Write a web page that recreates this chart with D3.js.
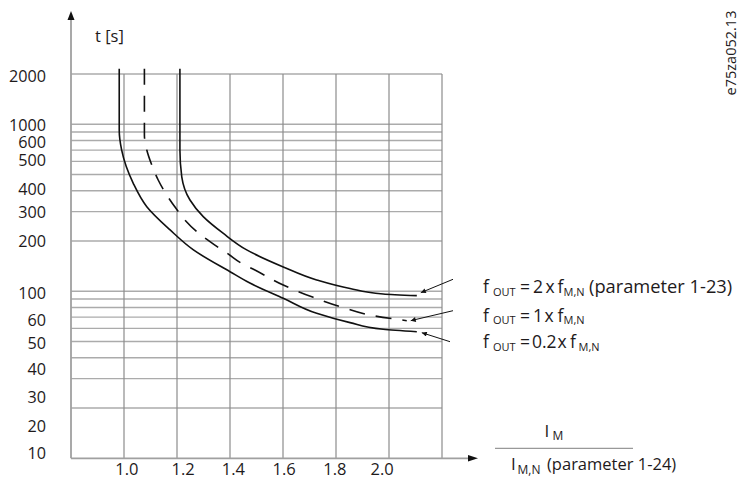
<!DOCTYPE html>
<html><head><meta charset="utf-8">
<script src="https://cdn.jsdelivr.net/npm/d3@7"></script>
<style>body{margin:0;background:#fff}</style>
</head><body>
<svg id="c" width="739" height="480"></svg>
<script>
// ---------- data ----------
const xGrid = [1.0, 1.2, 1.4, 1.6, 1.8, 2.0, 2.2];
const xTickLabels = ["1.0", "1.2", "1.4", "1.6", "1.8", "2.0"];
const xTickLabelAt = [1.011, 1.223, 1.413, 1.604, 1.796, 1.974];
const yGrid = [20, 30, 40, 50, 60, 70, 80, 90, 100, 200, 300, 400, 500, 600, 700, 800, 900, 1000, 2000];
const yTickLabels = ["2000", "1000", "600", "500", "400", "300", "200", "100", "60", "50", "40", "30", "20", "10"];
const yTickLabelAt = [1930, 990, 780, 610, 408, 296, 199, 97, 67, 49, 34, 23.2, 15.5, 10.8];

// f_OUT = 0.2 x f_M,N
const curveLow = [[0.982, 2150], [0.982, 920], [0.991, 702], [1.035, 443], [1.086, 321], [1.174, 233],
  [1.262, 177], [1.400, 131], [1.475, 112], [1.601, 90.8], [1.727, 73.8], [1.853, 64.9], [1.978, 59.2], [2.105, 57.3]];
// f_OUT = 1 x f_M,N
const curveMid = [[1.077, 2150], [1.077, 863], [1.086, 702], [1.105, 570], [1.129, 464], [1.161, 378], [1.196, 314],
  [1.230, 267], [1.274, 228], [1.343, 189], [1.394, 167], [1.444, 147], [1.494, 134], [1.601, 109], [1.714, 92],
  [1.828, 79.8], [1.947, 71.1], [2.067, 66.7]];
// f_OUT = 2 x f_M,N
const curveHigh = [[1.211, 2150], [1.211, 702], [1.218, 485], [1.249, 352], [1.299, 280], [1.375, 222], [1.463, 177],
  [1.601, 140], [1.727, 117], [1.853, 104], [1.978, 96.4], [2.105, 94.2]];

const yTitle = "t [s]";
const figId = "e75za052.13";

// ---------- layout ----------
const W = 739, H = 480;
const svg = d3.select("#c");
svg.append("rect").attr("width", W).attr("height", H).attr("fill", "#fff");
const FONT = "'Open Sans', 'DejaVu Sans', sans-serif";
const TXT = "#1e1a1b";

const x = d3.scaleLinear().domain([0.8, 2.2]).range([71, 442]);
const y = d3.scaleLog().domain([10, 1000]).range([458.3, 124.3]);

const defs = svg.append("defs");
defs.append("marker").attr("id", "ah").attr("viewBox", "0 0 10 10")
  .attr("refX", 10).attr("refY", 5).attr("markerWidth", 8).attr("markerHeight", 5)
  .attr("markerUnits", "userSpaceOnUse").attr("orient", "auto")
  .append("path").attr("d", "M0,0 L10,5 L0,10 z").attr("fill", "#111");

// horizontal grid
svg.append("g").selectAll("line").data(yGrid).join("line")
  .attr("x1", x(0.8)).attr("x2", x(2.2))
  .attr("y1", d => y(d)).attr("y2", d => y(d))
  .attr("stroke", "#ababab").attr("stroke-width", 1.4);

// vertical grid
svg.append("g").selectAll("line").data(xGrid).join("line")
  .attr("x1", d => x(d)).attr("x2", d => x(d))
  .attr("y1", y(2000)).attr("y2", y(10))
  .attr("stroke", "#8c8c8c").attr("stroke-width", 1.2);

// axes
svg.append("line").attr("x1", x(0.8)).attr("x2", x(0.8)).attr("y1", y(10)).attr("y2", 18)
  .attr("stroke", "#a0a0a0").attr("stroke-width", 1.8);
svg.append("path").attr("d", `M${x(0.8)},11 L${x(0.8) + 3.5},20 L${x(0.8) - 3.5},20 Z`).attr("fill", "#111");
svg.append("line").attr("x1", x(0.8)).attr("x2", 470).attr("y1", y(10)).attr("y2", y(10))
  .attr("stroke", "#a0a0a0").attr("stroke-width", 1.8);
svg.append("path").attr("d", `M478,${y(10)} L468,${y(10) - 3.2} L468,${y(10) + 3.2} Z`).attr("fill", "#111");

// tick labels
svg.append("g").selectAll("text").data(yTickLabels).join("text")
  .attr("x", 46).attr("y", (d, i) => y(yTickLabelAt[i])).attr("dy", "0.36em")
  .attr("text-anchor", "end").attr("font-family", FONT).attr("font-size", 16.2).attr("fill", TXT)
  .text(d => d);
svg.append("g").selectAll("text").data(xTickLabels).join("text")
  .attr("x", (d, i) => x(xTickLabelAt[i])).attr("y", 475)
  .attr("text-anchor", "middle").attr("font-family", FONT).attr("font-size", 16.5).attr("fill", TXT)
  .text(d => d);

svg.append("text").attr("x", 95).attr("y", 42).attr("font-family", FONT).attr("font-size", 16.5)
  .attr("fill", TXT).text(yTitle);

// curves
const line = d3.line().x(d => x(d[0])).y(d => y(d[1])).curve(d3.curveMonotoneY);
const curves = [
  { data: curveHigh, dash: null },
  { data: curveMid, dash: "16,11" },
  { data: curveLow, dash: null }
];
svg.append("g").selectAll("path").data(curves).join("path")
  .attr("d", d => line(d.data)).attr("fill", "none").attr("stroke", "#111")
  .attr("stroke-width", 1.6).attr("stroke-dasharray", d => d.dash);

// annotations
const annLines = [
  { base: 293, segs: [["f", 483], ["OUT", 493, 1], ["=", 520], ["2", 533], ["x", 545.5], ["f", 557.5], ["M,N", 563.5, 1], ["(parameter 1-23)", 589, 0, 18.3]], tail: [453, 279.3], curve: curveHigh, off: [4, -3] },
  { base: 321.5, segs: [["f", 483], ["OUT", 493, 1], ["=", 520], ["1", 533], ["x", 544.5], ["f", 557.5], ["M,N", 563.5, 1]], tail: [453, 310.7], curve: curveMid, off: [4, 0] },
  { base: 348, segs: [["f", 483], ["OUT", 493, 1], ["=", 520], ["0.2", 532], ["x", 557.5], ["f", 570], ["M,N", 578.5, 1]], tail: [450, 341.7], curve: curveLow, off: [5, 1] }
];
annLines.forEach(a => {
  a.segs.forEach(s => {
    svg.append("text").attr("x", s[1]).attr("y", a.base + (s[2] ? 2.5 : 0))
      .attr("font-family", FONT).attr("font-size", s[2] ? 11 : (s[3] || 17.5)).attr("fill", TXT).text(s[0]);
  });
  const last = a.curve[a.curve.length - 1];
  svg.append("line").attr("x1", a.tail[0]).attr("y1", a.tail[1])
    .attr("x2", x(last[0]) + a.off[0]).attr("y2", y(last[1]) + a.off[1])
    .attr("stroke", "#111").attr("stroke-width", 1).attr("marker-end", "url(#ah)");
});

// x axis title (fraction)
svg.append("text").attr("x", 544.5).attr("y", 436.7).attr("font-family", FONT).attr("font-size", 17).attr("fill", TXT).text("I");
svg.append("text").attr("x", 552.5).attr("y", 440).attr("font-family", FONT).attr("font-size", 12).attr("fill", TXT).text("M");
svg.append("line").attr("x1", 495).attr("x2", 633).attr("y1", 448.3).attr("y2", 448.3).attr("stroke", "#999").attr("stroke-width", 1.3);
svg.append("text").attr("x", 511).attr("y", 470).attr("font-family", FONT).attr("font-size", 17).attr("fill", TXT).text("I");
svg.append("text").attr("x", 517.5).attr("y", 473.5).attr("font-family", FONT).attr("font-size", 12).attr("fill", TXT).text("M,N");
svg.append("text").attr("x", 547).attr("y", 470).attr("font-family", FONT).attr("font-size", 16.5).attr("fill", TXT).text("(parameter 1-24)");

// figure id
svg.append("text").attr("transform", "translate(736,53) rotate(-90)").attr("text-anchor", "middle")
  .attr("font-family", FONT).attr("font-size", 14.5).attr("fill", TXT).text(figId);
</script>
</body></html>
